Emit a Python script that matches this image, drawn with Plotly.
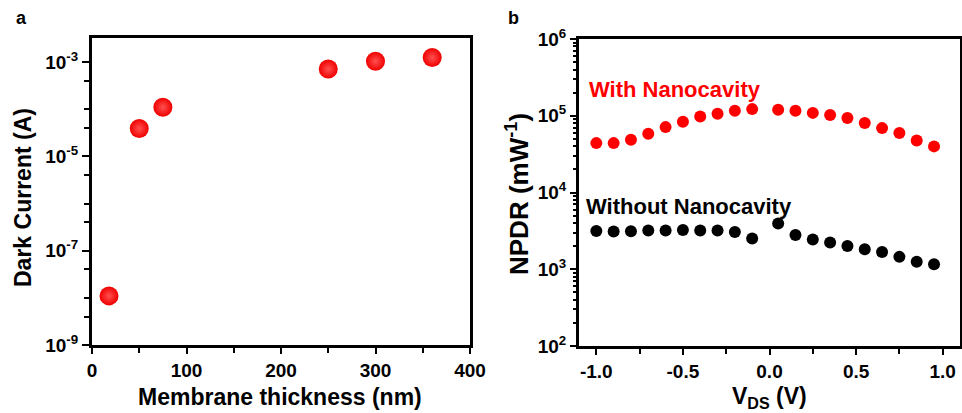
import plotly.graph_objects as go

# ---------- Data ----------
# Panel a
thickness_nm = [18, 50, 75, 250, 300, 360]
dark_current_A = [1.1e-8, 3.9e-5, 1.1e-4, 7.1e-4, 1.04e-3, 1.25e-3]

# Panel b
vds_V = [-1.0, -0.9, -0.8, -0.7, -0.6, -0.5, -0.4, -0.3, -0.2, -0.1,
         0.05, 0.15, 0.25, 0.35, 0.45, 0.55, 0.65, 0.75, 0.85, 0.95]
npdr_with = [44000, 44000, 48700, 58200, 71100, 83600, 98000, 106000, 116000, 122000,
             120000, 116000, 109000, 102000, 93300, 80300, 69000, 59400, 47700, 39900]
npdr_without = [3150, 3100, 3130, 3190, 3190, 3250, 3190, 3190, 3060, 2510,
                3940, 2800, 2440, 2230, 2010, 1820, 1680, 1450, 1250, 1160]

# Tick labels
a_y_tickvals = [1e-9, 1e-7, 1e-5, 1e-3]
a_y_ticktext = ["10<sup>-9</sup>", "10<sup>-7</sup>", "10<sup>-5</sup>", "10<sup>-3</sup>"]
a_x_tickvals = [0, 100, 200, 300, 400]
b_y_tickvals = [1e2, 1e3, 1e4, 1e5, 1e6]
b_y_ticktext = ["10<sup>2</sup>", "10<sup>3</sup>", "10<sup>4</sup>", "10<sup>5</sup>", "10<sup>6</sup>"]
b_x_tickvals = [-1.0, -0.5, 0.0, 0.5, 1.0]
b_x_ticktext = ["-1.0", "-0.5", "0.0", "0.5", "1.0"]

W, H = 962, 413
FONT = "Liberation Sans"

def px_x(p):
    return p / W

def px_y(p):
    return (H - p) / H

fig = go.Figure()

fig.add_trace(go.Scatter(
    x=thickness_nm, y=dark_current_A, mode="markers",
    marker=dict(size=19, color="#f00000",
                gradient=dict(type="radial", color="#ff5050"),
                line=dict(width=0)),
    xaxis="x", yaxis="y", showlegend=False))

fig.add_trace(go.Scatter(
    x=vds_V, y=npdr_with, mode="markers",
    marker=dict(size=12, color="#ff0000", line=dict(width=0)),
    xaxis="x2", yaxis="y2", showlegend=False))

fig.add_trace(go.Scatter(
    x=vds_V, y=npdr_without, mode="markers",
    marker=dict(size=12, color="#000000", line=dict(width=0)),
    xaxis="x2", yaxis="y2", showlegend=False))

tickfont = dict(family=FONT, size=19, color="black", weight="bold")

# minor ticks
a_minor_y = []
for d in range(-9, -2):
    a_minor_y.append(10 ** d)
    a_minor_y.append(4 * 10 ** d)
b_minor_y = [m * 10 ** d for d in range(2, 6) for m in range(2, 10)]

common_axis = dict(showline=True, linewidth=3, linecolor="black", mirror=True,
                   showgrid=False, zeroline=False, ticks="outside", automargin=False,
                   tickwidth=2, tickcolor="black", tickfont=tickfont)

fig.update_layout(
    template="none",
    width=W, height=H,
    margin=dict(l=0, r=0, t=0, b=0, autoexpand=False),
    paper_bgcolor="white", plot_bgcolor="white",
    xaxis=dict(domain=[px_x(92), px_x(470)], range=[0, 400], anchor="y",
               tickvals=a_x_tickvals, ticklen=6,
               minor=dict(tickvals=[50, 150, 250, 350], ticklen=5, tickwidth=2,
                          ticks="outside", tickcolor="black"),
               **common_axis),
    yaxis=dict(domain=[px_y(345), px_y(38)], type="log", range=[-9, -2.49], anchor="x",
               tickvals=a_y_tickvals, ticktext=a_y_ticktext, ticklen=7,
               minor=dict(tickvals=a_minor_y, ticklen=5, tickwidth=2,
                          ticks="outside", tickcolor="black"),
               **common_axis),
    xaxis2=dict(domain=[px_x(579), px_x(960)], range=[-1.1, 1.1], anchor="y2",
                tickvals=b_x_tickvals, ticktext=b_x_ticktext, ticklen=6,
                minor=dict(tickvals=[-0.75, -0.25, 0.25, 0.75], ticklen=5, tickwidth=2,
                           ticks="outside", tickcolor="black"),
                **common_axis),
    yaxis2=dict(domain=[px_y(346), px_y(39)], type="log", range=[2, 6], anchor="x2",
                tickvals=b_y_tickvals, ticktext=b_y_ticktext, ticklen=6,
                minor=dict(tickvals=b_minor_y, ticklen=3, tickwidth=2,
                           ticks="outside", tickcolor="black"),
                **common_axis),
)

title_font = dict(family=FONT, size=23, color="black", weight="bold")
label_font = dict(family=FONT, size=18, color="black", weight="bold")
ann = [
    dict(text="a", x=px_x(21), y=px_y(18), font=label_font),
    dict(text="b", x=px_x(513), y=px_y(18), font=label_font),
    dict(text="Membrane thickness (nm)", x=px_x(280), y=px_y(397), font=title_font),
    dict(text="Dark Current (A)", x=px_x(23), y=px_y(198), textangle=-90, font=title_font),
    dict(text="V<sub>DS</sub> (V)", x=px_x(769), y=px_y(397), font=title_font),
    dict(text="NPDR (mW<sup>-1</sup>)", x=px_x(517), y=px_y(194), textangle=-90,
         font=dict(family=FONT, size=26, color="black", weight="bold")),
]
for a in ann:
    fig.add_annotation(xref="paper", yref="paper", showarrow=False,
                       xanchor="center", yanchor="middle", **a)

fig.add_annotation(text="With Nanocavity", xref="paper", yref="paper", showarrow=False,
                   x=px_x(587), y=px_y(89), xanchor="left", yanchor="middle",
                   font=dict(family=FONT, size=22, color="#ff0000", weight="bold"))
fig.add_annotation(text="Without Nanocavity", xref="paper", yref="paper", showarrow=False,
                   x=px_x(584), y=px_y(206), xanchor="left", yanchor="middle",
                   font=dict(family=FONT, size=22, color="#000000", weight="bold"))

fig.write_html("out.html")
